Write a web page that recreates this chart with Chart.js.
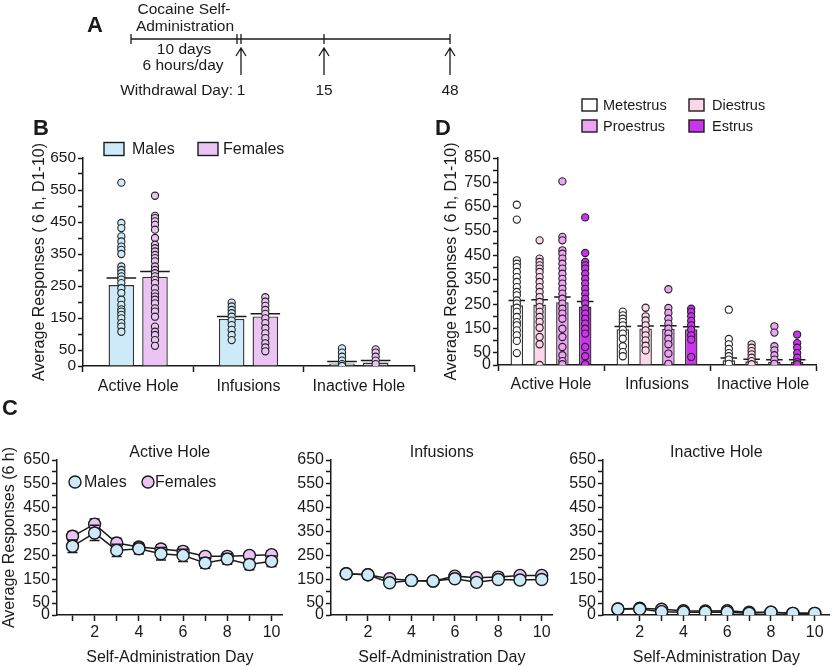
<!DOCTYPE html>
<html><head><meta charset="utf-8">
<script src="https://cdn.jsdelivr.net/npm/chart.js@4.4.1/dist/chart.umd.min.js"></script>
<style>
html,body{margin:0;padding:0;background:#fff;}
body{width:837px;height:667px;position:relative;overflow:hidden;}
canvas{position:absolute;}
</style></head><body>
<canvas id="cA" width="480" height="100" style="left:0px;top:0px"></canvas>
<canvas id="cB" width="420" height="305" style="left:0px;top:100px"></canvas>
<canvas id="cD" width="417" height="335" style="left:420px;top:70px"></canvas>
<canvas id="cC1" width="290" height="277" style="left:0px;top:390px"></canvas>
<canvas id="cC2" width="270" height="277" style="left:290px;top:390px"></canvas>
<canvas id="cC3" width="277" height="277" style="left:560px;top:390px"></canvas>
<script>
// ---------------- DATA ----------------
const sexes = ['Males', 'Females'];
const holeCategories = ['Active Hole', 'Infusions', 'Inactive Hole'];

// Panel B (means, SEM, individual animals)
const bYTicks = [0,50,100,150,200,250,300,350,400,450,500,550,600,650];
const bYLabels = [0,50,150,250,350,450,550,650];
const bMaleMeans = [253, 147, 8];
const bMaleSem = [22, 8, 6];
const bFemaleMeans = [279, 155, 11];
const bFemaleSem = [16, 8, 6];
const bMaleActive = [573,447,431,405,389,373,363,350,311,300,290,280,270,259,243,228,207,191,177,170,160,149,134,123,107];
const bMaleInf = [198,186,175,165,154,142,128,113,97,81];
const bMaleInact = [55,42,29,17,6,0];
const bFemaleActive = [532,469,462,452,441,426,400,379,368,358,347,337,327,311,300,290,280,269,259,243,227,217,207,196,180,170,154,123,107,97,81,63];
const bFemaleInf = [215,201,188,175,163,149,134,118,102,87,71,58,46];
const bFemaleInact = [52,42,29,17,6];

// Panel D (estrous cycle stages)
const cycleStages = ['Metestrus', 'Diestrus', 'Proestrus', 'Estrus'];
const dYTicks = [0,50,100,150,200,250,300,350,400,450,500,550,600,650,700,750,800,850];
const dYLabels = [0,50,150,250,350,450,550,650,750,850];
const dMetMeans = [245, 147, 19];
const dMetSem = [20, 11, 10];
const dDieMeans = [248, 150, 15];
const dDieSem = [20, 10, 9];
const dProMeans = [258, 148, 13];
const dProSem = [21, 13, 9];
const dEstMeans = [240, 147, 13];
const dEstSem = [21, 10, 9];
const dMetActive = [658,597,430,416,402,382,361,341,320,300,286,265,252,235,218,197,176,163,142,122,99,49];
const dMetInf = [219,204,190,177,163,145,129,108,77,53,36];
const dMetInact = [227,107,85,66,49,36,22,5];
const dDieActive = [512,437,423,409,396,382,361,341,320,300,279,259,238,218,197,177,153,115,85,0];
const dDieInf = [235,200,183,163,142,122,101,79,60];
const dDieInact = [85,71,57,44,30,16,3];
const dProActive = [754,526,512,471,457,437,416,396,375,354,334,313,293,272,252,231,211,190,149,115,74,40,16,3];
const dProInf = [311,234,214,190,170,149,129,108,85,47,5];
const dProInact = [159,133,77,60,40,22,5];
const dEstActive = [606,460,423,409,396,375,354,334,313,293,272,252,231,211,190,170,149,129,74,36,3];
const dEstInf = [231,218,200,181,163,145,122,104,33];
const dEstInact = [125,90,71,49,30,12,3];

// Panel C (daily means +/- SEM)
const days = [1,2,3,4,5,6,7,8,9,10];
const cXLabels = [2,4,6,8,10];
const cYTicks = [0,50,100,150,200,250,300,350,400,450,500,550,600,650];
const cYLabels = [0,50,150,250,350,450,550,650];
const cActiveMales = [288,344,271,278,257,250,218,235,212,225];
const cActiveMalesSem = [26,32,26,22,26,26,22,22,22,22];
const cActiveFemales = [330,381,302,285,277,267,246,246,250,253];
const cActiveFemalesSem = [20,22,20,18,18,18,14,14,15,15];
const cInfMales = [173,169,135,145,143,152,137,149,147,149];
const cInfMalesSem = [7,7,7,6,6,6,6,6,6,6];
const cInfFemales = [173,169,152,145,142,163,156,159,166,166];
const cInfFemalesSem = [7,7,7,6,6,6,6,6,6,6];
const cInactMales = [25,25,14,12,12,12,7,12,7,7];
const cInactMalesSem = [3,3,2,2,2,2,2,2,2,2];
const cInactFemales = [25,28,24,18,17,18,12,12,7,7];
const cInactFemalesSem = [3,3,3,2,2,2,2,2,2,2];

// Panel A schematic text
const saTitleLines = ['Cocaine Self-', 'Administration'];
const saDurationLines = ['10 days', '6 hours/day'];
const withdrawalLabel = 'Withdrawal Day:';
const withdrawalDays = ['1', '15', '48'];

// ---------------- STYLE ----------------
const FONT = "'Liberation Sans', Arial, Helvetica, sans-serif";
const INK = '#1a1a1a';
const sexColors = ['#cdeaf8', '#ebc4f4'];
const cycleColors = ['#ffffff', '#fdd6ea', '#eda2f3', '#cc33ee'];

Chart.defaults.font.family = FONT;
Chart.defaults.color = INK;
Chart.defaults.animation = false;

// ---------------- PLUGINS ----------------
function drawErr(chart, idx, phase) {
  const ds = chart.data.datasets[idx];
  if (!ds.errors || ds.errPhase !== phase) return;
  const meta = chart.getDatasetMeta(idx);
  const ys = chart.scales[meta.yAxisID];
  const ctx = chart.ctx;
  ctx.save();
  ctx.strokeStyle = INK;
  ctx.lineWidth = 1.5;
  meta.data.forEach((el, i) => {
    const raw = ds.data[i];
    const v = (typeof raw === 'number') ? raw : raw.y;
    const e = ds.errors[i];
    const x = el.x;
    const yTop = ys.getPixelForValue(v + e);
    const yBot = ds.errUpOnly ? ys.getPixelForValue(v) : ys.getPixelForValue(v - e);
    const cap = ds.type === 'bar' ? el.width / 2 + ds.capExtra : ds.capHalf;
    ctx.beginPath();
    ctx.moveTo(x, yTop); ctx.lineTo(x, yBot);
    ctx.moveTo(x - cap, yTop); ctx.lineTo(x + cap, yTop);
    if (!ds.errUpOnly) { ctx.moveTo(x - cap, yBot); ctx.lineTo(x + cap, yBot); }
    ctx.stroke();
  });
  ctx.restore();
}
const errorBars = {
  id: 'errorBars',
  beforeDatasetDraw(chart, args) { drawErr(chart, args.index, 'before'); },
  afterDatasetDraw(chart, args) { drawErr(chart, args.index, 'after'); }
};

const annotations = {
  id: 'annotations',
  afterDraw(chart, args, opts) {
    const ctx = chart.ctx;
    (opts.texts || []).forEach(t => {
      ctx.save();
      ctx.font = (t.bold ? 'bold ' : '') + t.size + 'px ' + FONT;
      ctx.fillStyle = INK;
      ctx.textAlign = t.align || 'left';
      ctx.textBaseline = 'middle';
      const x = t.x === 'center' ? (chart.chartArea.left + chart.chartArea.right) / 2 : t.x;
      ctx.fillText(t.text, x, t.y);
      ctx.restore();
    });
    (opts.legend || []).forEach(it => {
      ctx.save();
      ctx.lineWidth = 1.4;
      ctx.strokeStyle = INK;
      ctx.fillStyle = it.color;
      if (it.shape === 'circle') {
        ctx.beginPath(); ctx.arc(it.x, it.y, it.r, 0, Math.PI * 2); ctx.fill(); ctx.stroke();
      } else {
        ctx.fillRect(it.x, it.y - it.h / 2, it.w, it.h);
        ctx.strokeRect(it.x, it.y - it.h / 2, it.w, it.h);
      }
      ctx.fillStyle = INK;
      ctx.font = it.size + 'px ' + FONT;
      ctx.textAlign = 'left';
      ctx.textBaseline = 'middle';
      ctx.fillText(it.label, it.tx, it.y + 1);
      ctx.restore();
    });
  }
};

// ---------------- HELPERS ----------------
function yAxis(max, ticks, labels, rect, area, padL, title, fontSize) {
  return {
    type: 'linear', min: 0, max: max, stacked: false,
    afterBuildTicks: s => { s.ticks = ticks.map(v => ({ value: v })); },
    afterFit: s => { s.width = area.l - rect.l - padL; },
    ticks: { autoSkip: false, padding: 2, font: { size: fontSize }, color: INK,
      callback: v => labels.includes(v) ? String(v) : '' },
    grid: { drawOnChartArea: false, tickLength: 5, tickWidth: 1.5, tickColor: INK },
    border: { color: INK, width: 1.5 },
    title: { display: !!title, text: title || '', font: { size: 16 }, color: INK, padding: 0 }
  };
}

function barPanel(id, rect, area, padL, groups, yTicks, yLabels, yMax, catPct, barPct, yTitle, tickSize, xPad, extra) {
  const n = groups.length;
  const offsets = groups.map((g, i) => (i - (n - 1) / 2) * catPct / n);
  const datasets = [];
  groups.forEach((g, i) => {
    datasets.push({
      type: 'bar', label: g.label,
      data: g.means.map((m, j) => ({ x: j + offsets[i], y: m })),
      backgroundColor: g.color,
      borderColor: '#333', borderWidth: 1.4, borderSkipped: 'bottom',
      grouped: false, categoryPercentage: 1, barPercentage: barPct,
      xAxisID: 'x', yAxisID: 'y', order: 2,
      errors: g.sem, errPhase: 'after', errUpOnly: true, capExtra: 2
    });
  });
  groups.forEach((g, i) => {
    const pts = [];
    g.points.forEach((arr, j) => arr.forEach(v => pts.push({ x: j + offsets[i], y: v })));
    datasets.push({
      type: 'scatter', label: g.label + ' animals', data: pts,
      pointRadius: 3.6, pointBackgroundColor: g.pointColor || g.color,
      pointBorderColor: '#222', pointBorderWidth: 1.1,
      xAxisID: 'x', yAxisID: 'y', order: 1
    });
  });
  return new Chart(document.getElementById(id), {
    type: 'bar',
    data: { datasets },
    plugins: [errorBars, annotations],
    options: {
      responsive: false, animation: false,
      layout: { padding: { left: padL, top: area.t - rect.t, right: rect.l + rect.w - area.r, bottom: 0 } },
      plugins: { legend: { display: false }, tooltip: { enabled: false }, annotations: extra },
      scales: {
        x: {
          type: 'linear', min: -0.5, max: holeCategories.length - 0.5, offset: false, stacked: false,
          afterBuildTicks: s => { s.ticks = holeCategories.map((c, j) => ({ value: j })); },
          afterFit: s => { s.height = rect.t + rect.h - area.b; },
          grid: { drawOnChartArea: false, tickLength: 6, tickWidth: 1.5, tickColor: INK },
          border: { color: INK, width: 1.5 },
          ticks: { font: { size: 16 }, color: INK, padding: xPad, autoSkip: false, maxRotation: 0,
            callback: v => holeCategories[v] !== undefined ? holeCategories[v] : '' }
        },
        y: yAxis(yMax, yTicks, yLabels, rect, area, padL, yTitle, tickSize)
      }
    }
  });
}

function linePanel(id, rect, area, padL, xMin, xMax, males, malesSem, females, femalesSem, yTitle, extra) {
  const mk = (label, vals, sem, color) => ({
    type: 'line', label, data: days.map((d, i) => ({ x: d, y: vals[i] })),
    borderColor: INK, borderWidth: 1.5, fill: false, tension: 0,
    pointRadius: 6, pointBackgroundColor: color, pointBorderColor: INK, pointBorderWidth: 1.4,
    errors: sem, errPhase: 'before', capHalf: 5
  });
  return new Chart(document.getElementById(id), {
    type: 'line',
    data: { datasets: [mk(sexes[0], males, malesSem, sexColors[0]), mk(sexes[1], females, femalesSem, sexColors[1])] },
    plugins: [errorBars, annotations],
    options: {
      responsive: false, animation: false,
      layout: { padding: { left: padL, top: area.t - rect.t, right: rect.l + rect.w - area.r, bottom: 0 } },
      plugins: { legend: { display: false }, tooltip: { enabled: false }, annotations: extra },
      scales: {
        x: {
          type: 'linear', min: xMin, max: xMax,
          afterBuildTicks: s => { s.ticks = days.map(v => ({ value: v })); },
          afterFit: s => { s.height = rect.t + rect.h - area.b; },
          grid: { drawOnChartArea: false, tickLength: 6, tickWidth: 1.5, tickColor: INK },
          border: { color: INK, width: 1.5 },
          ticks: { autoSkip: false, maxRotation: 0, padding: 2, font: { size: 16 }, color: INK,
            callback: v => cXLabels.includes(v) ? String(v) : '' },
          title: { display: true, text: 'Self-Administration Day', font: { size: 16 }, color: INK, padding: 0 }
        },
        y: yAxis(650, cYTicks, cYLabels, rect, area, padL, yTitle, 16)
      }
    }
  });
}

// ---------------- PANEL A (schematic) ----------------
const timelineStops = { start: 131, saEnd: 237, marks: [241, 324, 450] };
new Chart(document.getElementById('cA'), {
  type: 'scatter',
  data: { datasets: [] },
  plugins: [{
    id: 'timeline',
    afterDraw(chart) {
      const ctx = chart.ctx;
      const sx = chart.scales.x, sy = chart.scales.y;
      const X = v => sx.getPixelForValue(v), Y = v => sy.getPixelForValue(v);
      ctx.save();
      ctx.strokeStyle = INK; ctx.fillStyle = INK; ctx.lineWidth = 1.3;
      const lineY = 39;
      ctx.beginPath();
      ctx.moveTo(X(timelineStops.start), Y(lineY)); ctx.lineTo(X(timelineStops.marks[2]), Y(lineY));
      [timelineStops.start, timelineStops.saEnd].concat(timelineStops.marks).forEach(t => {
        ctx.moveTo(X(t), Y(lineY - 5)); ctx.lineTo(X(t), Y(lineY + 5));
      });
      ctx.stroke();
      timelineStops.marks.forEach(t => {
        ctx.beginPath();
        ctx.moveTo(X(t), Y(75)); ctx.lineTo(X(t), Y(48));
        ctx.moveTo(X(t) - 5, Y(56)); ctx.lineTo(X(t), Y(48)); ctx.lineTo(X(t) + 5, Y(56));
        ctx.stroke();
      });
      ctx.font = '15.5px ' + FONT; ctx.textAlign = 'center'; ctx.textBaseline = 'middle';
      ctx.fillText(saTitleLines[0], X(184), Y(10));
      ctx.fillText(saTitleLines[1], X(185), Y(27));
      ctx.fillText(saDurationLines[0], X(184), Y(50));
      ctx.fillText(saDurationLines[1], X(183), Y(66));
      ctx.fillText(withdrawalDays[0], X(timelineStops.marks[0]), Y(91));
      ctx.fillText(withdrawalDays[1], X(timelineStops.marks[1]), Y(91));
      ctx.fillText(withdrawalDays[2], X(timelineStops.marks[2]), Y(91));
      ctx.textAlign = 'right';
      ctx.fillText(withdrawalLabel, X(233), Y(91));
      ctx.textAlign = 'left';
      ctx.font = 'bold 22px ' + FONT;
      ctx.fillText('A', X(87), Y(26));
      ctx.restore();
    }
  }],
  options: {
    responsive: false, animation: false,
    layout: { padding: 0 },
    plugins: { legend: { display: false }, tooltip: { enabled: false } },
    scales: {
      x: { type: 'linear', display: false, min: 0, max: 480 },
      y: { type: 'linear', display: false, min: 0, max: 100, reverse: true }
    }
  }
});

// ---------------- PANEL B ----------------
(function () {
  const rect = { l: 0, t: 100, w: 420, h: 305 };
  const area = { l: 83, t: 158, r: 414, b: 366 };
  barPanel('cB', rect, area, 30, [
    { label: sexes[0], color: sexColors[0], means: bMaleMeans, sem: bMaleSem, points: [bMaleActive, bMaleInf, bMaleInact] },
    { label: sexes[1], color: sexColors[1], means: bFemaleMeans, sem: bFemaleSem, points: [bFemaleActive, bFemaleInf, bFemaleInact] }
  ], bYTicks, bYLabels, 650, 0.61, 0.76, 'Average Responses ( 6 h, D1-10)', 15.5, 5, {
    texts: [{ text: 'B', x: 33 - rect.l, y: 129 - rect.t, size: 22, bold: true }],
    legend: [
      { label: sexes[0], color: sexColors[0], x: 104 - rect.l, y: 149 - rect.t, w: 20, h: 13, tx: 132 - rect.l, size: 16 },
      { label: sexes[1], color: sexColors[1], x: 198 - rect.l, y: 149 - rect.t, w: 20, h: 13, tx: 223 - rect.l, size: 16 }
    ]
  });
})();

// ---------------- PANEL D ----------------
(function () {
  const rect = { l: 420, t: 70, w: 417, h: 335 };
  const area = { l: 498, t: 158, r: 816, b: 365 };
  barPanel('cD', rect, area, 22, [
    { label: cycleStages[0], color: cycleColors[0], means: dMetMeans, sem: dMetSem, points: [dMetActive, dMetInf, dMetInact] },
    { label: cycleStages[1], color: cycleColors[1], means: dDieMeans, sem: dDieSem, points: [dDieActive, dDieInf, dDieInact] },
    { label: cycleStages[2], color: cycleColors[2], means: dProMeans, sem: dProSem, points: [dProActive, dProInf, dProInact] },
    { label: cycleStages[3], color: cycleColors[3], means: dEstMeans, sem: dEstSem, points: [dEstActive, dEstInf, dEstInact] }
  ], dYTicks, dYLabels, 850, 0.86, 0.55, 'Average Responses ( 6 h, D1-10)', 16, 4, {
    texts: [{ text: 'D', x: 435 - rect.l, y: 129 - rect.t, size: 22, bold: true }],
    legend: [
      { label: cycleStages[0], color: cycleColors[0], x: 582 - rect.l, y: 105 - rect.t, w: 15, h: 12, tx: 603 - rect.l, size: 14.5 },
      { label: cycleStages[1], color: cycleColors[1], x: 689 - rect.l, y: 105 - rect.t, w: 15, h: 12, tx: 712 - rect.l, size: 14.5 },
      { label: cycleStages[2], color: cycleColors[2], x: 582 - rect.l, y: 126 - rect.t, w: 15, h: 12, tx: 603 - rect.l, size: 14.5 },
      { label: cycleStages[3], color: cycleColors[3], x: 689 - rect.l, y: 126 - rect.t, w: 15, h: 12, tx: 712 - rect.l, size: 14.5 }
    ]
  });
})();

// ---------------- PANEL C ----------------
(function () {
  const rect = { l: 0, t: 390, w: 290, h: 277 };
  const area = { l: 57, t: 460, r: 287, b: 615 };
  linePanel('cC1', rect, area, 0, 0.3, 10.5, cActiveMales, cActiveMalesSem, cActiveFemales, cActiveFemalesSem, 'Average Responses (6 h)', {
    texts: [
      { text: 'C', x: 2, y: 409 - rect.t, size: 22, bold: true },
      { text: holeCategories[0], x: 'center', y: 453 - rect.t, size: 16, align: 'center' }
    ],
    legend: [
      { label: sexes[0], color: sexColors[0], shape: 'circle', x: 75, y: 482 - rect.t, r: 6, tx: 84, size: 16 },
      { label: sexes[1], color: sexColors[1], shape: 'circle', x: 148, y: 482 - rect.t, r: 6, tx: 155, size: 16 }
    ]
  });
})();
(function () {
  const rect = { l: 290, t: 390, w: 270, h: 277 };
  const area = { l: 331, t: 460, r: 560, b: 615 };
  linePanel('cC2', rect, area, 0, 0.3, 10.5, cInfMales, cInfMalesSem, cInfFemales, cInfFemalesSem, '', {
    texts: [{ text: holeCategories[1], x: 'center', y: 453 - rect.t, size: 16, align: 'center' }]
  });
})();
(function () {
  const rect = { l: 560, t: 390, w: 277, h: 277 };
  const area = { l: 603, t: 460, r: 836, b: 615 };
  linePanel('cC3', rect, area, 0, 0.32, 10.68, cInactMales, cInactMalesSem, cInactFemales, cInactFemalesSem, '', {
    texts: [{ text: holeCategories[2], x: 'center', y: 453 - rect.t, size: 16, align: 'center' }]
  });
})();
</script>
</body></html>
